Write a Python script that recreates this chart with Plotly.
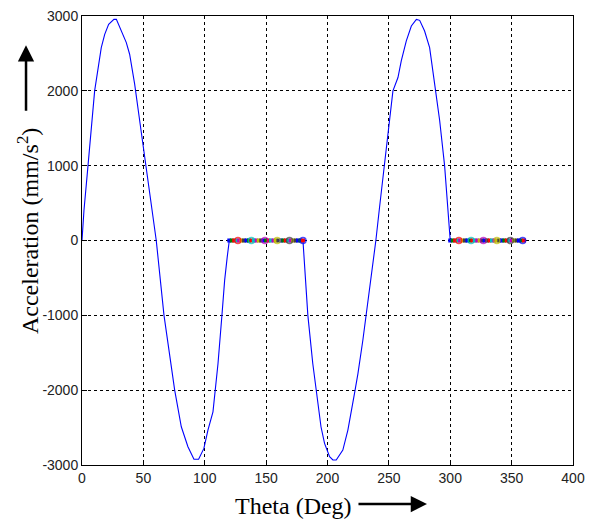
import plotly.graph_objects as go

# Rise segment (0 - 120 deg)
rise_theta = [0, 1.6, 4.9, 10.3, 15.7, 18.5, 21.7, 26, 28, 32, 36.1, 38.8, 42.9, 47, 49.7,
              52.4, 57, 60.5, 66.8, 70, 75.5, 80.9, 86.3, 91.2, 95, 99.3, 102.6, 106.7,
              108.6, 110.8, 114, 116.2, 118.3, 120]
rise_accel = [0, 400, 1000, 2000, 2578, 2755, 2889, 2955, 2955, 2800, 2644, 2489, 2089, 1600, 1289,
              1000, 400, 0, -1000, -1378, -2000, -2489, -2755, -2924, -2924, -2778, -2533, -2289,
              -2000, -1644, -1000, -533, -222, 0]

# Return segment (180 - 300 deg)
return_theta = [180, 181.3, 184, 188, 190.8, 194.7, 197.6, 201.7, 204.4, 207.1, 212.5, 216.6,
                222, 224.8, 228.8, 231.5, 235.6, 239.4, 242.4, 246.5, 249.2, 253.3, 257.4,
                260.1, 264.2, 268.3, 272.4, 275.1, 279.1, 283.2, 287.3, 291.4, 295.4, 298.1, 300]
return_accel = [0, -311, -1000, -1644, -2000, -2489, -2711, -2889, -2933, -2933, -2800, -2533,
                -2044, -1778, -1333, -1000, -444, 0, 444, 1000, 1422, 2000, 2178,
                2400, 2667, 2867, 2955, 2942, 2800, 2578, 2089, 1600, 1000, 400, 0]

# Dwell segments (acceleration zero)
dwell1_theta = [120, 122, 124, 126, 128, 130, 132, 134, 136, 138, 140, 142, 144, 146, 148,
                150, 152, 154, 156, 158, 160, 162, 164, 166, 168, 170, 172, 174, 176, 178, 180]
dwell2_theta = [300, 302, 304, 306, 308, 310, 312, 314, 316, 318, 320, 322, 324, 326, 328,
                330, 332, 334, 336, 338, 340, 342, 344, 346, 348, 350, 352, 354, 356, 358, 360]
dwell1_big = [127, 138, 149, 159, 169, 180]
dwell2_big = [307, 317, 327, 338, 349, 359]

x_ticks = [0, 50, 100, 150, 200, 250, 300, 350, 400]
x_labels = ["0", "50", "100", "150", "200", "250", "300", "350", "400"]
y_ticks = [-3000, -2000, -1000, 0, 1000, 2000, 3000]
y_labels = ["-3000", "-2000", "-1000", "0", "1000", "2000", "3000"]

cycle = ["#0000ff", "#008000", "#ff0000", "#00bfbf", "#bf00bf", "#bfbf00", "#404040"]

fig = go.Figure()

for th, acc in [(rise_theta, rise_accel), (return_theta, return_accel)]:
    fig.add_trace(go.Scatter(x=th, y=acc, mode="lines",
                             line=dict(color="#0000ff", width=1.1), showlegend=False))

for dw, big in [(dwell1_theta, dwell1_big), (dwell2_theta, dwell2_big)]:
    fig.add_trace(go.Scatter(x=dw, y=[0] * len(dw), mode="lines+markers",
                             line=dict(color="#0000ff", width=1),
                             marker=dict(size=4, symbol="square",
                                         color=[cycle[i % len(cycle)] for i in range(len(dw))]),
                             showlegend=False))
    fig.add_trace(go.Scatter(x=big, y=[0] * len(big), mode="markers",
                             marker=dict(size=6, symbol="circle-open",
                                         color=[cycle[(i + 2) % len(cycle)] for i in range(len(big))],
                                         line=dict(width=1.5)),
                             opacity=0.7, showlegend=False))

tick_font = dict(family="Arial, Liberation Sans, sans-serif", size=14, color="#222")
axis_common = dict(showline=True, linecolor="black", linewidth=1, mirror=True,
                   ticks="inside", ticklen=5, tickcolor="black",
                   showgrid=True, gridcolor="black", griddash="3px,3px", gridwidth=1,
                   zeroline=False, tickfont=tick_font, automargin=False,
                   ticklabeloverflow="allow")

fig.update_layout(
    width=594, height=523,
    margin=dict(l=82, r=21, t=16, b=58, autoexpand=False),
    paper_bgcolor="white", plot_bgcolor="white",
    xaxis=dict(range=[0, 400], tickvals=x_ticks, ticktext=x_labels, **axis_common),
    yaxis=dict(range=[-3000, 3000], tickvals=y_ticks, ticktext=y_labels, **axis_common),
)

serif = dict(family="Liberation Serif, Times New Roman, serif", size=24, color="black")
fig.add_annotation(text="Theta (Deg)", xref="paper", yref="paper", x=0.43, y=-0.091,
                   xanchor="center", yanchor="middle", showarrow=False, font=serif)
fig.add_annotation(text="Acceleration (mm/s<sup>2</sup>)", xref="paper", yref="paper",
                   x=-0.11, y=0.521, textangle=-90, xanchor="center", yanchor="middle",
                   showarrow=False, font=serif)

# arrows next to axis titles
fig.add_annotation(text="", xref="paper", yref="paper", x=0.7026, y=-0.087,
                   ax=-70, ay=0, showarrow=True, arrowhead=2, arrowsize=1.3,
                   arrowwidth=2.5, arrowcolor="black")
fig.add_annotation(text="", xref="paper", yref="paper", x=-0.114, y=0.935,
                   ax=0, ay=67, showarrow=True, arrowhead=2, arrowsize=1.3,
                   arrowwidth=2.5, arrowcolor="black")

# drop the default page margin so the figure sits at the window's corner
fig.write_html("out.html", config={"displayModeBar": False},
               post_script="document.body.style.margin='0';")
